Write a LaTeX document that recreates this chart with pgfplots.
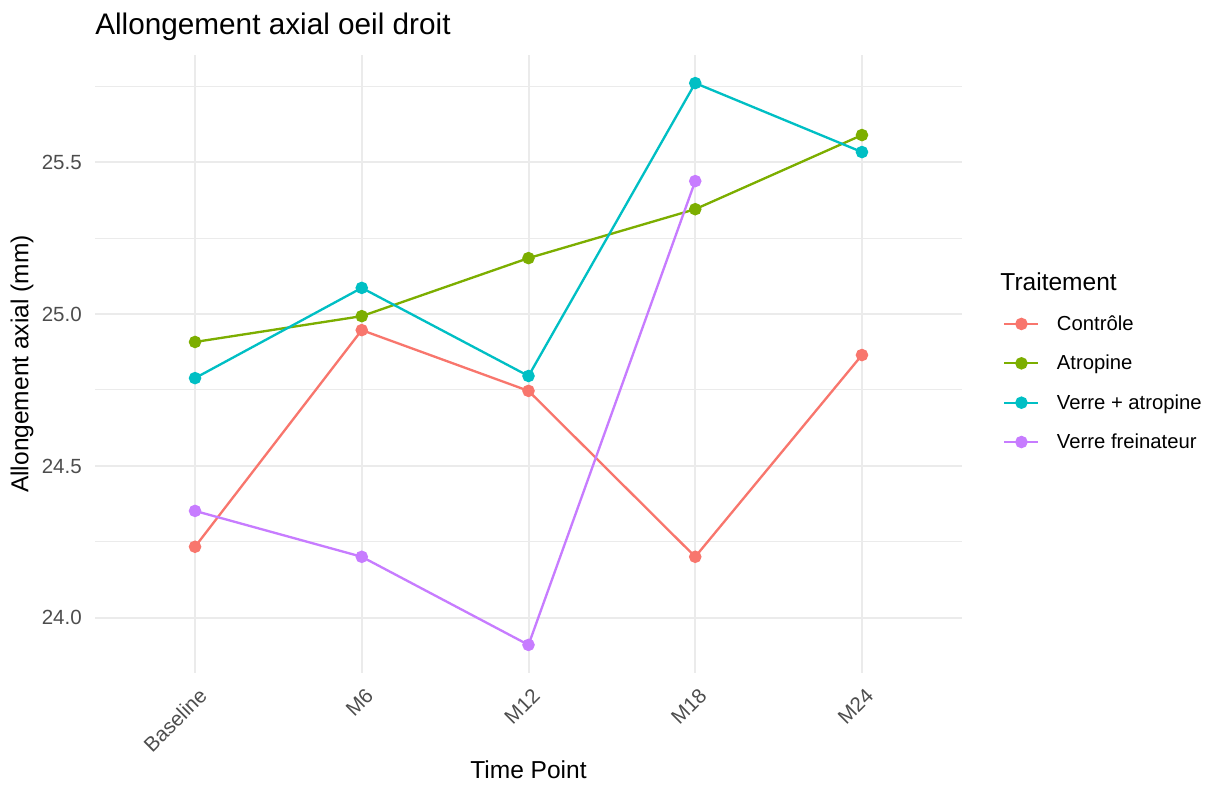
\documentclass[border=0pt]{standalone}
\usepackage{pgfplots}
\pgfplotsset{compat=1.18}
\usepackage{fontspec}
\setmainfont{Liberation Sans}

\definecolor{cctrl}{HTML}{F8766D}
\definecolor{catro}{HTML}{7CAE00}
\definecolor{cverat}{HTML}{00BFC4}
\definecolor{cfrein}{HTML}{C77CFF}
\definecolor{gridc}{HTML}{EBEBEB}
\definecolor{tickc}{HTML}{4D4D4D}

\begin{document}
\begin{tikzpicture}
\begin{axis}[
    scale only axis,
    width=650.25pt, height=463.5pt,
    xmin=0.4, xmax=5.6,
    ymin=23.8185, ymax=25.8525,
    xtick={1,2,3,4,5},
    xticklabels={Baseline,M6,M12,M18,M24},
    ytick={24,24.5,25,25.5},
    minor ytick={24.25,24.75,25.25,25.75},
    yticklabel style={/pgf/number format/fixed, /pgf/number format/fixed zerofill, /pgf/number format/precision=1},
    /pgf/number format/assume math mode=true,
    xmajorgrids, ymajorgrids, yminorgrids,
    major grid style={gridc, line width=1.5pt},
    minor grid style={gridc, line width=0.75pt},
    axis line style={draw=none},
    major tick length=0pt, minor tick length=0pt,
    tick style={draw=none},
    yticklabel style={font=\fontsize{15.4}{18}\selectfont, text=tickc, anchor=east, inner sep=0pt, xshift=-9.75pt},
    xticklabel style={font=\fontsize{15.4}{18}\selectfont, text=tickc, xshift=1.9pt, yshift=-10.2pt, rotate=45, anchor=north east, inner sep=0pt},
    xlabel={Time Point},
    ylabel={Allongement axial (mm)},
    label style={font=\fontsize{18.4}{22}\selectfont},
    xlabel style={at={(axis description cs:0.5,-0.157)}, anchor=center},
    ylabel style={at={(axis description cs:-0.0842,0.5)}, anchor=center},
    title={Allongement axial oeil droit},
    title style={font=\fontsize{22.3}{26}\selectfont, at={(axis description cs:0,1.0324)}, anchor=base west, inner sep=0pt, yshift=-6pt},
    legend style={draw=none, fill=none, font=\fontsize{15.2}{18}\selectfont,
        at={(axis description cs:1.0473,0.4693)}, anchor=west,
        row sep=13pt, inner sep=0pt,
        /tikz/every odd column/.append style={column sep=11pt}},
    legend cell align=left,
    legend image code/.code={\draw[mark repeat=2,mark phase=2,#1] plot coordinates {(0pt,0pt) (12.75pt,0pt) (25.5pt,0pt)};},
    every axis plot/.append style={line width=1.75pt, mark=*, mark size=3.8pt, mark options={solid}},
]
\addplot[cctrl] coordinates {(1,24.234) (2,24.947) (3,24.747) (4,24.201) (5,24.865)};
\addlegendentry{Contrôle}
\addplot[catro] coordinates {(1,24.908) (2,24.993) (3,25.184) (4,25.345) (5,25.589)};
\addlegendentry{Atropine}
\addplot[cverat] coordinates {(1,24.789) (2,25.086) (3,24.796) (4,25.760) (5,25.533)};
\addlegendentry{Verre + atropine}
\addplot[cfrein] coordinates {(1,24.352) (2,24.201) (3,23.911) (4,25.4375)};
\addlegendentry{Verre freinateur}
\coordinate (bl) at (rel axis cs:0,0);
\coordinate (tr) at (rel axis cs:1,1);
\coordinate (legt) at (rel axis cs:1.044,0.6327);
\end{axis}
\node[anchor=west, inner sep=0pt, font=\fontsize{18.4}{22}\selectfont] at (legt) {Traitement};
\pgfresetboundingbox
\path[use as bounding box] ([shift={(-71.25pt,-84pt)}]bl) rectangle ([shift={(183.75pt,41.25pt)}]tr);
\end{tikzpicture}
\end{document}
